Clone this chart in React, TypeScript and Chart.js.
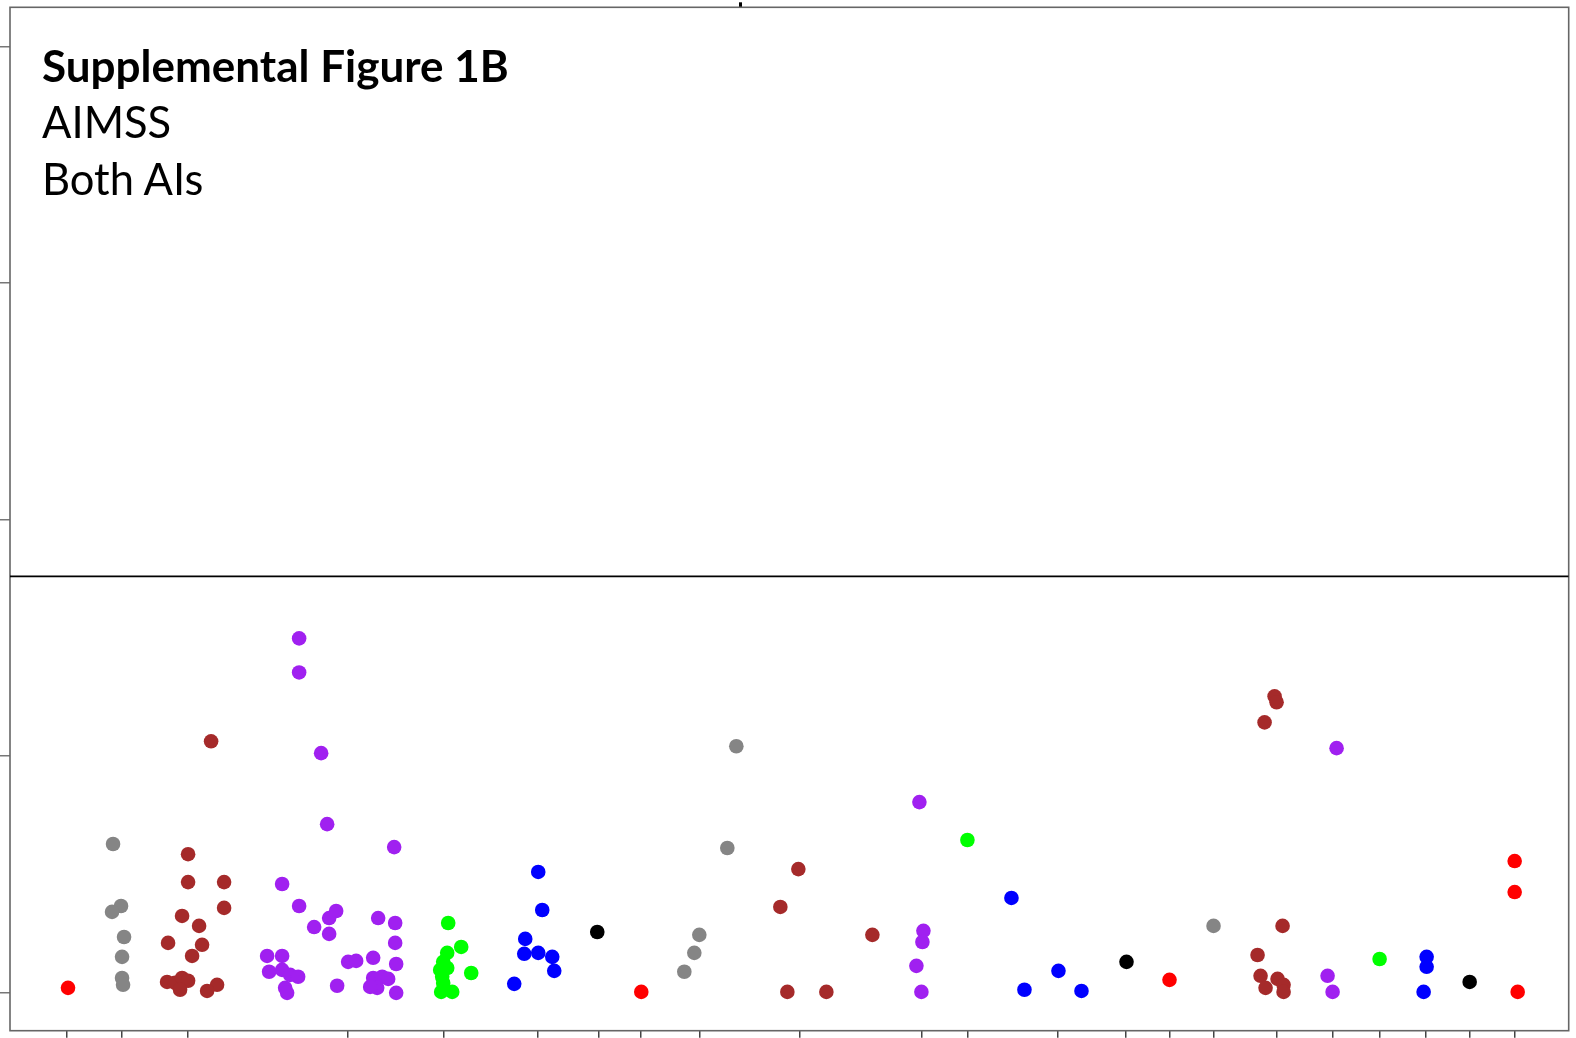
import React, { useEffect, useRef } from "react";
import { Chart, registerables } from "chart.js";

Chart.register(...registerables);

// x positions of the category ticks (arbitrary units) and y tick values
const xTickPositions = [5.7, 11.2, 17.8, 33.8, 43.4, 52.8, 58.8, 63.0, 68.9, 78.9, 91.1, 95.7, 104.7, 111.5, 115.9, 120.3, 126.6, 132.2, 136.9, 141.5, 145.9, 150.4];
const topTickPositions = [73.0];
const yTickValues = [0, 10, 20, 30, 40];
const thresholdY = 17.6;

const redPoints = [
  { x: 5.8, y: 0.21 }, { x: 63.1, y: 0.04 }, { x: 115.9, y: 0.55 },
  { x: 150.4, y: 5.57 }, { x: 150.4, y: 4.26 }, { x: 150.7, y: 0.04 },
];
const grayPoints = [
  { x: 10.3, y: 6.29 }, { x: 11.1, y: 3.67 }, { x: 10.2, y: 3.42 }, { x: 11.4, y: 2.36 },
  { x: 11.2, y: 1.52 }, { x: 11.2, y: 0.63 }, { x: 11.3, y: 0.34 },
  { x: 72.6, y: 10.42 }, { x: 71.7, y: 6.12 }, { x: 68.9, y: 2.45 }, { x: 68.4, y: 1.69 }, { x: 67.4, y: 0.89 },
  { x: 120.3, y: 2.83 },
];
const brownPoints = [
  { x: 20.1, y: 10.63 }, { x: 17.8, y: 5.86 }, { x: 17.8, y: 4.68 }, { x: 21.4, y: 4.68 },
  { x: 21.4, y: 3.59 }, { x: 17.2, y: 3.25 }, { x: 18.9, y: 2.83 }, { x: 15.8, y: 2.11 },
  { x: 19.2, y: 2.03 }, { x: 18.2, y: 1.56 }, { x: 15.7, y: 0.46 }, { x: 16.5, y: 0.42 },
  { x: 17.2, y: 0.63 }, { x: 17.8, y: 0.51 }, { x: 17.0, y: 0.13 }, { x: 20.7, y: 0.34 }, { x: 19.7, y: 0.08 },
  { x: 78.8, y: 5.23 }, { x: 77.0, y: 3.63 }, { x: 77.7, y: 0.04 }, { x: 81.6, y: 0.04 }, { x: 86.2, y: 2.45 },
  { x: 126.4, y: 12.53 }, { x: 126.6, y: 12.28 }, { x: 125.4, y: 11.43 }, { x: 127.2, y: 2.83 },
  { x: 124.7, y: 1.6 }, { x: 125.0, y: 0.72 }, { x: 126.7, y: 0.59 }, { x: 127.3, y: 0.34 },
  { x: 125.5, y: 0.21 }, { x: 127.3, y: 0.04 },
];
const purplePoints = [
  { x: 28.9, y: 14.98 }, { x: 28.9, y: 13.54 }, { x: 31.1, y: 10.13 }, { x: 31.7, y: 7.13 },
  { x: 38.4, y: 6.16 }, { x: 27.2, y: 4.6 }, { x: 28.9, y: 3.67 }, { x: 32.6, y: 3.46 },
  { x: 31.9, y: 3.16 }, { x: 30.4, y: 2.78 }, { x: 31.9, y: 2.49 }, { x: 36.8, y: 3.16 },
  { x: 38.5, y: 2.95 }, { x: 38.5, y: 2.11 }, { x: 25.7, y: 1.56 }, { x: 27.2, y: 1.56 },
  { x: 33.8, y: 1.31 }, { x: 34.6, y: 1.35 }, { x: 36.3, y: 1.48 }, { x: 38.6, y: 1.22 },
  { x: 25.9, y: 0.89 }, { x: 27.2, y: 0.97 }, { x: 28.0, y: 0.76 }, { x: 28.8, y: 0.68 },
  { x: 27.5, y: 0.21 }, { x: 27.7, y: 0 }, { x: 32.7, y: 0.3 }, { x: 36.3, y: 0.63 },
  { x: 37.2, y: 0.68 }, { x: 37.8, y: 0.59 }, { x: 36.7, y: 0.21 }, { x: 36.0, y: 0.25 }, { x: 38.6, y: 0 },
  { x: 90.9, y: 8.06 }, { x: 91.3, y: 2.62 }, { x: 91.2, y: 2.15 }, { x: 90.6, y: 1.14 }, { x: 91.1, y: 0.04 },
  { x: 132.6, y: 10.34 }, { x: 131.7, y: 0.72 }, { x: 132.2, y: 0.04 },
];
const greenPoints = [
  { x: 43.8, y: 2.95 }, { x: 45.1, y: 1.94 }, { x: 46.1, y: 0.84 }, { x: 43.7, y: 1.69 },
  { x: 43.3, y: 1.31 }, { x: 43.7, y: 1.05 }, { x: 43.0, y: 0.97 }, { x: 43.2, y: 0.68 },
  { x: 43.3, y: 0.42 }, { x: 43.1, y: 0.04 }, { x: 44.2, y: 0.04 },
  { x: 95.7, y: 6.46 }, { x: 136.9, y: 1.43 },
];
const bluePoints = [
  { x: 52.8, y: 5.11 }, { x: 53.2, y: 3.5 }, { x: 51.5, y: 2.28 }, { x: 51.4, y: 1.65 },
  { x: 52.8, y: 1.69 }, { x: 54.2, y: 1.52 }, { x: 54.4, y: 0.93 }, { x: 50.4, y: 0.38 },
  { x: 100.1, y: 4.01 }, { x: 101.4, y: 0.13 }, { x: 104.8, y: 0.93 }, { x: 107.1, y: 0.08 },
  { x: 141.6, y: 1.52 }, { x: 141.6, y: 1.1 }, { x: 141.3, y: 0.04 },
];
const blackPoints = [
  { x: 58.7, y: 2.57 }, { x: 111.6, y: 1.31 }, { x: 145.9, y: 0.46 },
];

const X_MIN = 0;
const X_MAX = 155.8;
const Y_MIN = -1.6;
const Y_MAX = 41.65;

const framePlugin = {
  id: "frame",
  beforeDatasetsDraw(chart: any) {
    const { ctx, chartArea } = chart;
    ctx.save();
    ctx.strokeStyle = "#666";
    ctx.lineWidth = 1.6;
    ctx.strokeRect(chartArea.left, chartArea.top, chartArea.right - chartArea.left, chartArea.bottom - chartArea.top);
    ctx.restore();
  },
};

export default function App() {
  const ref = useRef<HTMLCanvasElement>(null);
  useEffect(() => {
    if (!ref.current) return;
    const pointDs = (data: any[], color: string) => ({
      type: "scatter" as const,
      data,
      backgroundColor: color,
      borderWidth: 0,
      pointRadius: 7.3,
      pointHoverRadius: 7.3,
    });
    const chart = new Chart(ref.current, {
      type: "scatter",
      data: {
        datasets: [
          {
            type: "line",
            data: [{ x: X_MIN, y: thresholdY }, { x: X_MAX, y: thresholdY }],
            borderColor: "#000",
            borderWidth: 1.6,
            pointRadius: 0,
            fill: false,
          } as any,
          pointDs(redPoints, "#ff0000"),
          pointDs(grayPoints, "#858585"),
          pointDs(brownPoints, "#a52a2a"),
          pointDs(purplePoints, "#a020f0"),
          pointDs(greenPoints, "#00ff00"),
          pointDs(bluePoints, "#0000ff"),
          pointDs(blackPoints, "#000000"),
        ],
      },
      options: {
        animation: false,
        responsive: true,
        maintainAspectRatio: false,
        layout: { padding: { left: 0, top: 1, right: 2, bottom: 0 } },
        plugins: { legend: { display: false }, tooltip: { enabled: false }, title: { display: false } },
        scales: {
          x: {
            type: "linear",
            position: "bottom",
            min: X_MIN,
            max: X_MAX,
            afterBuildTicks: (s: any) => { s.ticks = xTickPositions.map((v) => ({ value: v })); },
            ticks: { display: false },
            grid: { drawOnChartArea: false, drawTicks: true, tickLength: 7, color: "#444", lineWidth: 1.5 },
            border: { display: false },
          },
          x2: {
            type: "linear",
            axis: "x",
            position: "top",
            min: X_MIN,
            max: X_MAX,
            afterBuildTicks: (s: any) => { s.ticks = topTickPositions.map((v) => ({ value: v })); },
            ticks: { display: false },
            grid: { drawOnChartArea: false, drawTicks: true, tickLength: 5, color: "#000", lineWidth: 3 },
            border: { display: false },
          },
          y: {
            type: "linear",
            min: Y_MIN,
            max: Y_MAX,
            afterBuildTicks: (s: any) => { s.ticks = yTickValues.map((v) => ({ value: v })); },
            ticks: { display: false },
            grid: { drawOnChartArea: false, drawTicks: true, tickLength: 10, color: "#777", lineWidth: 1.5 },
            border: { display: false },
          },
        },
      },
      plugins: [framePlugin],
    } as any);
    return () => chart.destroy();
  }, []);

  const textBase: React.CSSProperties = {
    position: "absolute",
    left: 42,
    fontFamily: "Lato, 'Open Sans', sans-serif",
    color: "#000",
    lineHeight: 1,
    whiteSpace: "nowrap",
  };

  return (
    <div style={{ position: "absolute", left: 0, top: 0, width: 1576, height: 1038, background: "#fff" }}>
      <canvas ref={ref} />
      <div style={{ ...textBase, top: 43, fontSize: 44, fontWeight: 700 }}>Supplemental Figure 1B</div>
      <div style={{ ...textBase, top: 100, fontSize: 43.5, fontWeight: 400 }}>AIMSS</div>
      <div style={{ ...textBase, top: 157, fontSize: 43.5, fontWeight: 400 }}>Both AIs</div>
    </div>
  );
}
